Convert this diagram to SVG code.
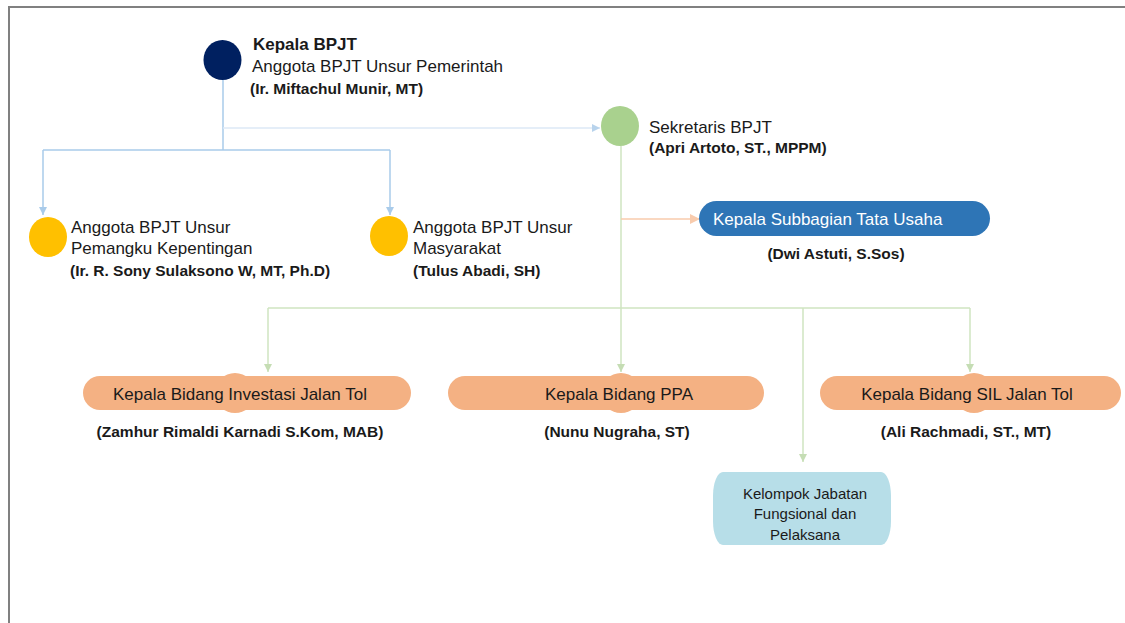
<svg xmlns="http://www.w3.org/2000/svg" width="1125" height="623" viewBox="0 0 1125 623">
<style>
  text { font-family: "Liberation Sans", Arial, sans-serif; fill: #1a1a1a; }
  .lbl { font-size: 17px; }
  .hd { font-size: 17px; font-weight: bold; }
  .nm { font-size: 15.5px; font-weight: bold; }
  .ctr { text-anchor: middle; }
  .blue { stroke: #A9CBEA; stroke-width: 1.5; fill: none; }
  .faint { stroke: #DCE9F6; stroke-width: 1.5; fill: none; }
  .green { stroke: #CFE5C1; stroke-width: 1.5; fill: none; }
  .orange { stroke: #F8CBAD; stroke-width: 1.5; fill: none; }
  .pill { fill: #F4B183; }
</style>
<defs>
  <marker id="ab" markerWidth="8" markerHeight="8" refX="8" refY="4" orient="auto" markerUnits="userSpaceOnUse"><path d="M0,0 L8,4 L0,8 Z" fill="#A9CBEA"/></marker>
  <marker id="af" markerWidth="8" markerHeight="8" refX="8" refY="4" orient="auto" markerUnits="userSpaceOnUse"><path d="M0,0 L8,4 L0,8 Z" fill="#B8D3EC"/></marker>
  <marker id="ag" markerWidth="8" markerHeight="8" refX="8" refY="4" orient="auto" markerUnits="userSpaceOnUse"><path d="M0,0 L8,4 L0,8 Z" fill="#C5DDB4"/></marker>
  <marker id="ao" markerWidth="10" markerHeight="10" refX="10" refY="5" orient="auto" markerUnits="userSpaceOnUse"><path d="M0,0 L10,5 L0,10 Z" fill="#F8CBAD"/></marker>
</defs>
<rect width="1125" height="623" fill="#ffffff"/>
<path d="M9,623 L9,7 L1125,7" fill="none" stroke="#808080" stroke-width="2"/>

<g id="connectors">
  <path class="blue" d="M223,80 L223,150"/>
  <path class="faint" d="M223,128 L600,128" marker-end="url(#af)"/>
  <path class="blue" d="M43,150 L390,150"/>
  <path class="blue" d="M43,150 L43,215" marker-end="url(#ab)"/>
  <path class="blue" d="M390,150 L390,215" marker-end="url(#ab)"/>
  <path class="green" d="M621,146 L621,308"/>
  <path class="orange" d="M621,219 L700,219" marker-end="url(#ao)"/>
  <path class="green" d="M268,308 L970,308"/>
  <path class="green" d="M268,308 L268,372" marker-end="url(#ag)"/>
  <path class="green" d="M621,308 L621,372" marker-end="url(#ag)"/>
  <path class="green" d="M970,308 L970,372" marker-end="url(#ag)"/>
  <path class="green" d="M803,308 L803,462" marker-end="url(#ag)"/>
</g>

<g id="kepala">
  <ellipse cx="222.5" cy="60" rx="19" ry="20" fill="#002060"/>
  <text class="hd" x="253" y="50">Kepala BPJT</text>
  <text class="lbl" x="252" y="72">Anggota BPJT Unsur Pemerintah</text>
  <text class="nm" x="250" y="94">(Ir. Miftachul Munir, MT)</text>
</g>

<g id="sekretaris">
  <ellipse cx="620" cy="126" rx="19" ry="20" fill="#A9D18E"/>
  <text class="lbl" x="649" y="133">Sekretaris BPJT</text>
  <text class="nm" x="649" y="153">(Apri Artoto, ST., MPPM)</text>
</g>

<g id="anggota-pemangku">
  <ellipse cx="48" cy="237" rx="19" ry="20" fill="#FFC000"/>
  <text class="lbl" x="71" y="233">Anggota BPJT Unsur</text>
  <text class="lbl" x="71" y="254">Pemangku Kepentingan</text>
  <text class="nm" x="70" y="276">(Ir. R. Sony Sulaksono W, MT, Ph.D)</text>
</g>

<g id="anggota-masyarakat">
  <ellipse cx="389" cy="236" rx="19" ry="20" fill="#FFC000"/>
  <text class="lbl" x="413" y="233">Anggota BPJT Unsur</text>
  <text class="lbl" x="413" y="254">Masyarakat</text>
  <text class="nm" x="413" y="276">(Tulus Abadi, SH)</text>
</g>

<g id="tata-usaha">
  <rect x="699" y="201" width="291" height="35" rx="17.5" fill="#2E75B6"/>
  <text class="lbl" x="713" y="225" style="fill:#ffffff">Kepala Subbagian Tata Usaha</text>
  <text class="nm ctr" x="836" y="259">(Dwi Astuti, S.Sos)</text>
</g>

<g id="bidang-investasi">
  <circle class="pill" cx="235" cy="393" r="20"/>
  <rect class="pill" x="83" y="376" width="328" height="34" rx="17"/>
  <text class="lbl ctr" x="240" y="400">Kepala Bidang Investasi Jalan Tol</text>
  <text class="nm ctr" x="240" y="437">(Zamhur Rimaldi Karnadi S.Kom, MAB)</text>
</g>

<g id="bidang-ppa">
  <circle class="pill" cx="621" cy="393" r="20"/>
  <rect class="pill" x="448" y="376" width="316" height="34" rx="17"/>
  <text class="lbl ctr" x="619" y="400">Kepala Bidang PPA</text>
  <text class="nm ctr" x="617" y="437">(Nunu Nugraha, ST)</text>
</g>

<g id="bidang-sil">
  <circle class="pill" cx="974" cy="393" r="20"/>
  <rect class="pill" x="820" y="376" width="301" height="34" rx="17"/>
  <text class="lbl ctr" x="967" y="400">Kepala Bidang SIL Jalan Tol</text>
  <text class="nm ctr" x="966" y="437">(Ali Rachmadi, ST., MT)</text>
</g>

<g id="kelompok">
  <rect x="713" y="472" width="178" height="73" rx="10" ry="24" fill="#B7DEE8"/>
  <text class="ctr" x="805" y="499" style="font-size:15px">Kelompok Jabatan</text>
  <text class="ctr" x="805" y="519" style="font-size:15px">Fungsional dan</text>
  <text class="ctr" x="805" y="540" style="font-size:15px">Pelaksana</text>
</g>
</svg>
